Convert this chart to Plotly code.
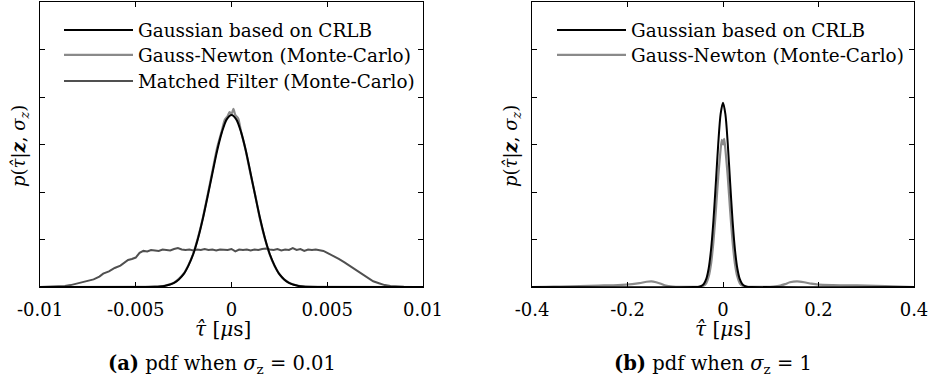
import plotly.graph_objects as go

# ---------------- data ----------------
# Panel (a): sigma_z = 0.01
a_gauss_x = [-0.01, -0.006, -0.0045, -0.004, -0.00375, -0.0035, -0.00325, -0.003, -0.00275, -0.0025,
             -0.00225, -0.002, -0.00175, -0.0015, -0.00125, -0.001, -0.00075, -0.0005, -0.00025, 0.0,
             0.00025, 0.0005, 0.00075, 0.001, 0.00125, 0.0015, 0.00175, 0.002, 0.00225, 0.0025,
             0.00275, 0.003, 0.00325, 0.0035, 0.00375, 0.004, 0.0045, 0.006, 0.01]
a_gauss_y = [0.0, 0.0, 0.001, 0.005, 0.011, 0.023, 0.046, 0.088, 0.16, 0.27,
             0.45, 0.69, 1.02, 1.43, 1.90, 2.39, 2.87, 3.26, 3.53, 3.62,
             3.53, 3.26, 2.87, 2.39, 1.90, 1.43, 1.02, 0.69, 0.45, 0.27,
             0.16, 0.088, 0.046, 0.023, 0.011, 0.005, 0.001, 0.0, 0.0]

a_gn_x = [-0.01, -0.0045, -0.004, -0.0035, -0.003, -0.00275, -0.0025, -0.00225, -0.002, -0.00175,
          -0.0015, -0.00125, -0.001, -0.00075, -0.0005, -0.00035, -0.0002, -0.0001, 0.0, 0.0001,
          0.0002, 0.00035, 0.0005, 0.00075, 0.001, 0.00125, 0.0015, 0.00175, 0.002, 0.00225,
          0.0025, 0.00275, 0.003, 0.0035, 0.004, 0.0045, 0.01]
a_gn_y = [0.0, 0.002, 0.006, 0.025, 0.09, 0.17, 0.28, 0.46, 0.70, 1.04,
          1.45, 1.93, 2.43, 2.93, 3.30, 3.52, 3.60, 3.68, 3.64, 3.75,
          3.62, 3.55, 3.27, 2.86, 2.37, 1.91, 1.41, 1.01, 0.68, 0.44,
          0.27, 0.16, 0.09, 0.024, 0.005, 0.001, 0.0]

a_mf_x = [-0.01, -0.0095, -0.009, -0.0087, -0.0084, -0.0081, -0.0078, -0.0075, -0.0072, -0.0069,
          -0.0067, -0.0064, -0.0061, -0.0058, -0.0056, -0.0054, -0.0052, -0.0050, -0.0048, -0.0046,
          -0.0044, -0.0042, -0.0040, -0.0038, -0.0036, -0.0034, -0.0032, -0.0030, -0.0028, -0.0026,
          -0.0024, -0.0022, -0.0020, -0.0018, -0.0016, -0.0014, -0.0012, -0.0010, -0.0008, -0.0006,
          -0.0004, -0.0002, 0.0, 0.0002, 0.0004, 0.0006, 0.0008, 0.0010, 0.0012, 0.0014,
          0.0016, 0.0018, 0.0020, 0.0022, 0.0024, 0.0026, 0.0028, 0.0030, 0.0032, 0.0034,
          0.0036, 0.0038, 0.0040, 0.0042, 0.0044, 0.0046, 0.0048, 0.0050, 0.0053, 0.0056,
          0.0059, 0.0062, 0.0065, 0.0068, 0.0071, 0.0074, 0.0077, 0.0080, 0.0083, 0.0086,
          0.0090, 0.0095, 0.01]
a_mf_y = [0.0, 0.002, 0.01, 0.02, 0.04, 0.07, 0.09, 0.13, 0.16, 0.22,
          0.28, 0.33, 0.40, 0.45, 0.52, 0.57, 0.59, 0.62, 0.72, 0.76,
          0.75, 0.78, 0.77, 0.76, 0.79, 0.78, 0.77, 0.80, 0.82, 0.79,
          0.78, 0.79, 0.77, 0.79, 0.78, 0.80, 0.78, 0.79, 0.77, 0.79,
          0.79, 0.78, 0.80, 0.75, 0.79, 0.78, 0.79, 0.77, 0.79, 0.78,
          0.80, 0.81, 0.79, 0.78, 0.80, 0.77, 0.79, 0.78, 0.82, 0.78,
          0.80, 0.76, 0.79, 0.78, 0.79, 0.77, 0.76, 0.72, 0.66, 0.59,
          0.52, 0.44, 0.36, 0.28, 0.20, 0.12, 0.08, 0.04, 0.02, 0.01,
          0.003, 0.0, 0.0]

# Panel (b): sigma_z = 1
b_gauss_x = [-0.4, -0.06, -0.05, -0.045, -0.04, -0.035, -0.03, -0.025, -0.02, -0.015,
             -0.01, -0.005, 0.0, 0.005, 0.01, 0.015, 0.02, 0.025, 0.03, 0.035,
             0.04, 0.045, 0.05, 0.06, 0.4]
b_gauss_y = [0.0, 0.0, 0.006, 0.022, 0.066, 0.17, 0.39, 0.79, 1.40, 2.19,
             3.01, 3.64, 3.88, 3.64, 3.01, 2.19, 1.40, 0.79, 0.39, 0.17,
             0.066, 0.022, 0.006, 0.0, 0.0]

b_gn_x = [-0.4, -0.37, -0.34, -0.30, -0.26, -0.22, -0.19, -0.175, -0.16, -0.15,
          -0.14, -0.13, -0.12, -0.105, -0.09, -0.07, -0.05, -0.04, -0.035, -0.03,
          -0.025, -0.02, -0.015, -0.01, -0.005, -0.0025, 0.0, 0.0025, 0.005, 0.01,
          0.015, 0.02, 0.025, 0.03, 0.035, 0.04, 0.05, 0.07, 0.09, 0.105,
          0.12, 0.13, 0.14, 0.155, 0.17, 0.185, 0.20, 0.23, 0.26, 0.30,
          0.34, 0.37, 0.4]
b_gn_y = [0.0, 0.003, 0.01, 0.02, 0.03, 0.04, 0.06, 0.08, 0.11, 0.12,
          0.10, 0.07, 0.03, 0.01, 0.003, 0.002, 0.003, 0.03, 0.083, 0.22,
          0.49, 0.96, 1.60, 2.32, 2.90, 3.10, 3.00, 3.12, 2.90, 2.32,
          1.60, 0.96, 0.49, 0.22, 0.083, 0.03, 0.003, 0.002, 0.003, 0.01,
          0.03, 0.06, 0.10, 0.12, 0.10, 0.07, 0.05, 0.04, 0.035, 0.03,
          0.02, 0.008, 0.0]

a_xticks = [-0.01, -0.005, 0, 0.005, 0.01]
a_xticktext = ["-0.01", "-0.005", "0", "0.005", "0.01"]
b_xticks = [-0.4, -0.2, 0, 0.2, 0.4]
b_xticktext = ["-0.4", "-0.2", "0", "0.2", "0.4"]
y_ticks = [0, 1, 2, 3, 4, 5, 6]

names = ["Gaussian based on CRLB", "Gauss-Newton (Monte-Carlo)", "Matched Filter (Monte-Carlo)"]
captions = ["<b>(a)</b> pdf when <i>σ</i><sub>z</sub> = 0.01", "<b>(b)</b> pdf when <i>σ</i><sub>z</sub> = 1"]

# ---------------- styling ----------------
W, H = 931, 384
FONT = "DejaVu Serif, Liberation Serif, serif"
BLACK = "#000000"
GREY = "#8a8a8a"
DARK = "#505050"

def px_x(p):
    return p / W

def px_y(p):
    return 1 - p / H

fig = go.Figure()

fig.add_trace(go.Scatter(x=a_mf_x, y=a_mf_y, mode="lines", name=names[2],
                         line=dict(color=DARK, width=2), xaxis="x", yaxis="y",
                         legend="legend3"))
fig.add_trace(go.Scatter(x=a_gn_x, y=a_gn_y, mode="lines", name=names[1],
                         line=dict(color=GREY, width=2.2, shape="spline", smoothing=0.6),
                         xaxis="x", yaxis="y", legend="legend2"))
fig.add_trace(go.Scatter(x=a_gauss_x, y=a_gauss_y, mode="lines", name=names[0],
                         line=dict(color=BLACK, width=2, shape="spline", smoothing=0.8),
                         xaxis="x", yaxis="y", legend="legend"))

fig.add_trace(go.Scatter(x=b_gn_x, y=b_gn_y, mode="lines", name=names[1],
                         line=dict(color=GREY, width=2.2, shape="spline", smoothing=0.6),
                         xaxis="x2", yaxis="y2", legend="legend5"))
fig.add_trace(go.Scatter(x=b_gauss_x, y=b_gauss_y, mode="lines", name=names[0],
                         line=dict(color=BLACK, width=2, shape="spline", smoothing=0.8),
                         xaxis="x2", yaxis="y2", legend="legend4"))

axis_common = dict(showline=True, linecolor=BLACK, linewidth=1, mirror="allticks",
                   ticks="inside", ticklen=5, tickcolor=BLACK, tickwidth=1,
                   showgrid=False, zeroline=False, automargin=False,
                   tickfont=dict(family=FONT, size=18, color=BLACK))

ydom = [px_y(287), px_y(2)]
LEGFONT = dict(family=FONT, size=18.4, color=BLACK)


def leg(xpx, ypx):
    return dict(x=px_x(xpx), y=px_y(ypx), xanchor="left", yanchor="middle",
                bgcolor="rgba(0,0,0,0)", borderwidth=0, itemwidth=69,
                tracegroupgap=0, font=LEGFONT)


fig.update_layout(
    width=W, height=H,
    margin=dict(l=0, r=0, t=0, b=0, autoexpand=False),
    paper_bgcolor="white", plot_bgcolor="white",
    font=dict(family=FONT, size=18, color=BLACK),
    xaxis=dict(domain=[px_x(40), px_x(423)], range=[-0.01, 0.01], anchor="y",
               tickvals=a_xticks, ticktext=a_xticktext, ticklabelstandoff=6, **axis_common),
    yaxis=dict(domain=ydom, range=[0, 6], anchor="x", tickvals=y_ticks,
               showticklabels=False, **axis_common),
    xaxis2=dict(domain=[px_x(532), px_x(914)], range=[-0.4, 0.4], anchor="y2",
                tickvals=b_xticks, ticktext=b_xticktext, ticklabelstandoff=6, **axis_common),
    yaxis2=dict(domain=ydom, range=[0, 6], anchor="x2", tickvals=y_ticks,
                showticklabels=False, **axis_common),
    legend=leg(59, 30),
    legend2=leg(59, 55),
    legend3=leg(59, 81),
    legend4=leg(552, 30),
    legend5=leg(552, 55),
    showlegend=True,
)

TAU = "<span style='font-family:DejaVu Serif'><i>τ̂</i></span>"
ann = []
# x-axis titles
for cx in [px_x(223), px_x(723)]:
    ann.append(dict(x=cx, y=px_y(329), xref="paper", yref="paper", showarrow=False,
                    text=TAU + " [<i>μ</i>s]", font=dict(family=FONT, size=20, color=BLACK),
                    xanchor="center", yanchor="middle"))
# y-axis titles
for cx in [px_x(20), px_x(512)]:
    ann.append(dict(x=cx, y=px_y(146), xref="paper", yref="paper", showarrow=False,
                    text="<i>p</i>(" + TAU + "|<b><i>z</i></b>, <i>σ<sub>z</sub></i>)",
                    textangle=-90, font=dict(family=FONT, size=18, color=BLACK),
                    xanchor="center", yanchor="middle"))
# captions
for cx, txt in zip([px_x(222), px_x(713)], captions):
    ann.append(dict(x=cx, y=px_y(364), xref="paper", yref="paper", showarrow=False,
                    text=txt, font=dict(family=FONT, size=19.5, color=BLACK),
                    xanchor="center", yanchor="middle"))
fig.update_layout(annotations=ann)

fig.write_html("out.html")
